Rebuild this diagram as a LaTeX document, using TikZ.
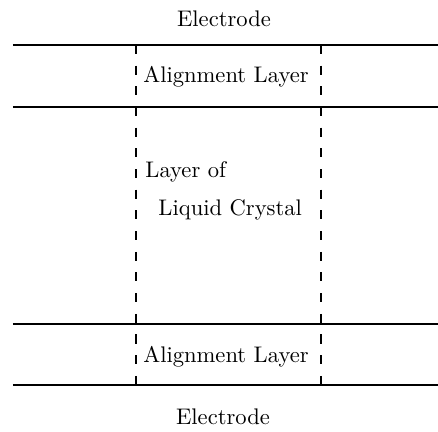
\documentclass[tikz,border=0pt]{standalone}
\usepackage{tikz}
\usetikzlibrary{positioning}
\tikzset{
    lcPlate/.style={
        draw=black,
        line width=0.6pt
    },
    lcWall/.style={
        draw=black,
        line width=0.7pt,
        dash pattern=on 4pt off 5.16pt
    },
    lcLabel/.style={
        font=\normalsize,
        inner sep=0pt
    }
}

\begin{document}
\begin{tikzpicture}[x=0.443pt, y=-0.443pt]
    \useasboundingbox (0,0) rectangle (438,432);

    % Plate boundaries
    \coordinate (elecTopL) at (13,45);   \coordinate (elecTopR) at (438,45);
    \coordinate (alignTopL) at (13,107); \coordinate (alignTopR) at (438,107);
    \coordinate (alignBotL) at (13,324); \coordinate (alignBotR) at (438,324);
    \coordinate (elecBotL) at (13,385);  \coordinate (elecBotR) at (438,385);

    \draw[lcPlate] (elecTopL) -- (elecTopR);
    \draw[lcPlate] (alignTopL) -- (alignTopR);
    \draw[lcPlate] (alignBotL) -- (alignBotR);
    \draw[lcPlate] (elecBotL) -- (elecBotR);

    % Cell walls
    \coordinate (wallLTop) at (136,45);  \coordinate (wallLBot) at (136,385);
    \coordinate (wallRTop) at (321,45);  \coordinate (wallRBot) at (321,385);

    \draw[lcWall] (wallLTop) -- (wallLBot);
    \draw[lcWall] (wallRTop) -- (wallRBot);

    % Labels
    \node[lcLabel, anchor=base] (elecTop) at (224,26) {Electrode};
    \node[lcLabel, anchor=base] (alignTop) at (226,82) {Alignment Layer};
    \node[lcLabel, anchor=base west] (lcLine1) at (145,177) {Layer of};
    \node[lcLabel, anchor=base west] (lcLine2) at (158,215) {Liquid Crystal};
    \node[lcLabel, anchor=base] (alignBot) at (226,362) {Alignment Layer};
    \node[lcLabel, anchor=base] (elecBot) at (223,424) {Electrode};
\end{tikzpicture}
\end{document}
